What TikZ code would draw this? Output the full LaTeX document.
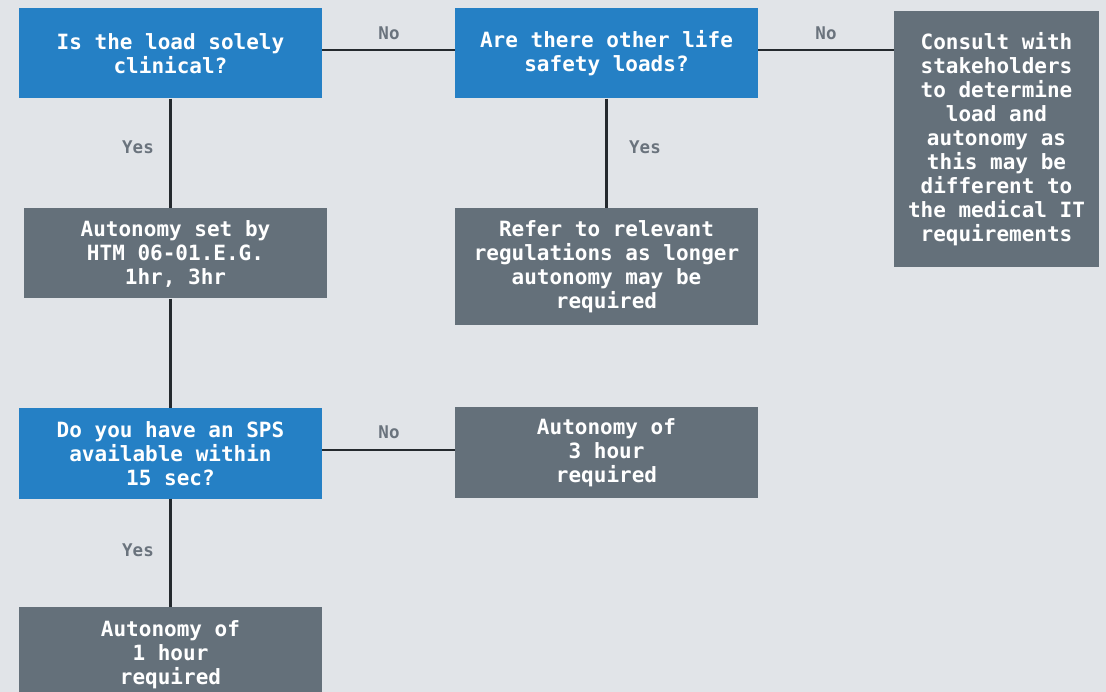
\documentclass[tikz,border=0pt]{standalone}
\usepackage{fontspec}
\setmonofont{DejaVu Sans Mono}
\definecolor{bg}{HTML}{E1E4E8}
\definecolor{qblue}{HTML}{2580C5}
\definecolor{agrey}{HTML}{64707A}
\definecolor{lbl}{HTML}{6A737D}
\definecolor{ln}{HTML}{24292E}
\begin{document}
\begin{tikzpicture}[x=1pt,y=-1pt,
  box/.style={rectangle,inner sep=0pt,text=white,align=center,
    font=\ttfamily\bfseries\fontsize{21}{24}\selectfont},
  qbox/.style={box,fill=qblue,minimum width=303pt,minimum height=90pt},
  abox/.style={box,fill=agrey},
  conn/.style={draw=ln,line width=2.5pt},
  lab/.style={text=lbl,font=\ttfamily\bfseries\fontsize{17.5}{20}\selectfont,inner sep=0pt}]
\fill[bg] (0,0) rectangle (1106,692);
\useasboundingbox (0,0) rectangle (1106,692);
% nodes
\node[qbox] (A) at (170.5,53.5) {Is the load solely\\clinical?};
\node[qbox] (B) at (606.5,53.5) {Are there other life\\safety loads?};
\node[abox,minimum width=205pt,minimum height=256pt] (C) at (996.5,139) {Consult with\\stakeholders\\to determine\\load and\\autonomy as\\this may be\\different to\\the medical IT\\requirements};
\node[abox,minimum width=303pt,minimum height=90pt] (D) at (175.5,253.5) {Autonomy set by\\HTM 06-01.E.G.\\1hr, 3hr};
\node[abox,minimum width=303pt,minimum height=117pt] (E) at (606.5,267) {Refer to relevant\\regulations as longer\\autonomy may be\\required};
\node[qbox] (F) at (170.5,453.5) {Do you have an SPS\\available within\\15 sec?};
\node[abox,minimum width=303pt,minimum height=90pt] (G) at (606.5,452.5) {Autonomy of\\3 hour\\required};
\node[abox,minimum width=303pt,minimum height=95pt] (H) at (170.5,654.5) {Autonomy of\\1 hour\\required};
% connector anchors
\coordinate (ae) at ([yshift=3.5pt]A.east);
\coordinate (be) at ([yshift=3.5pt]B.east);
\coordinate (fe) at ([yshift=3.5pt]F.east);
% connectors
\draw[conn] (ae) -- (ae -| B.west);
\draw[conn] (be) -- (be -| C.west);
\draw[conn] (A.south) -- (A.south |- D.north);
\draw[conn] (A.south |- D.south) -- (F.north);
\draw[conn] (B.south) -- (E.north);
\draw[conn] (fe) -- (fe -| G.west);
\draw[conn] (F.south) -- (H.north);
% labels
\node[lab] (l1) at (389,33) {No};
\node[lab] (l2) at (826,33) {No};
\node[lab] (l3) at (138,147) {Yes};
\node[lab] (l4) at (645,147) {Yes};
\node[lab] (l5) at (389,432) {No};
\node[lab] (l6) at (138,550) {Yes};
\end{tikzpicture}
\end{document}
